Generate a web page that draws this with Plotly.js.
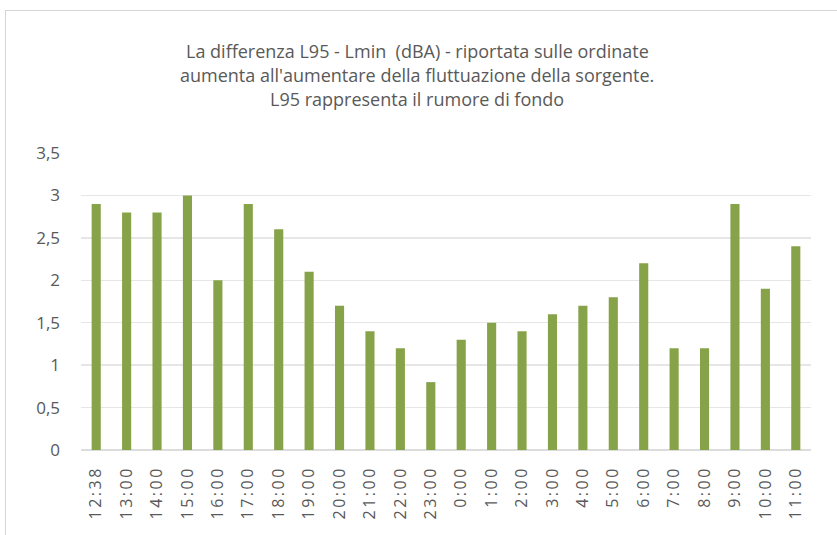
<!DOCTYPE html>
<html>
<head>
<meta charset="utf-8">
<script src="https://cdn.plot.ly/plotly-3.0.1.min.js"></script>
<style>
html,body{margin:0;padding:0;background:#fff;overflow:hidden;width:837px;height:535px;}
#frame{position:absolute;left:5px;top:10px;width:850px;height:540px;border:1px solid #d4d4d4;background:#fff;}
#chart{width:850px;height:540px;}
#chart .xtick text{letter-spacing:2.5px;}
</style>
</head>
<body>
<div id="frame"><div id="chart"></div></div>
<script>
const categories = ["12:38","13:00","14:00","15:00","16:00","17:00","18:00","19:00","20:00","21:00","22:00","23:00","0:00","1:00","2:00","3:00","4:00","5:00","6:00","7:00","8:00","9:00","10:00","11:00"];
const values = [2.9,2.8,2.8,3.0,2.0,2.9,2.6,2.1,1.7,1.4,1.2,0.8,1.3,1.5,1.4,1.6,1.7,1.8,2.2,1.2,1.2,2.9,1.9,2.4];
const titleLines = [
  "La differenza L95 - Lmin  (dBA) - riportata sulle ordinate",
  "aumenta all'aumentare della fluttuazione della sorgente.",
  "L95 rappresenta il rumore di fondo"
];

const txt = "#595959";
const font = "'Open Sans', sans-serif";
const lineY = [1.3434, 1.2626, 1.1818];

const data = [{
  type: "bar",
  x: categories,
  y: values,
  marker: {color: "#87a34a"},
  hoverinfo: "x+y"
}];

const layout = {
  width: 850, height: 540,
  margin: {l: 75, r: 45, t: 142, b: 101, pad: 0},
  paper_bgcolor: "#fff",
  plot_bgcolor: "#fff",
  separators: ", ",
  bargap: 0.7,
  showlegend: false,
  font: {family: font, color: txt, size: 14},
  xaxis: {
    type: "category",
    tickangle: -90,
    tickfont: {size: 16, color: txt, family: font},
    showgrid: false,
    showline: false,
    ticks: "",
    ticklabelstandoff: 12,
    fixedrange: true
  },
  yaxis: {
    range: [0, 3.5],
    dtick: 0.5,
    tick0: 0,
    gridcolor: "#e6e6e6",
    gridwidth: 1.5,
    zeroline: true,
    zerolinecolor: "#dcdcdc",
    zerolinewidth: 1.5,
    showline: false,
    ticks: "",
    tickfont: {size: 17, color: txt},
    ticklabelstandoff: 20,
    fixedrange: true
  },
  annotations: titleLines.map((t, i) => ({
    text: t, xref: "paper", yref: "paper",
    x: 0.4603, y: lineY[i], xanchor: "center", yanchor: "middle",
    showarrow: false, font: {size: 18, color: txt, family: font}
  }))
};

Plotly.newPlot("chart", data, layout, {displayModeBar: false, staticPlot: true});
</script>
</body>
</html>
